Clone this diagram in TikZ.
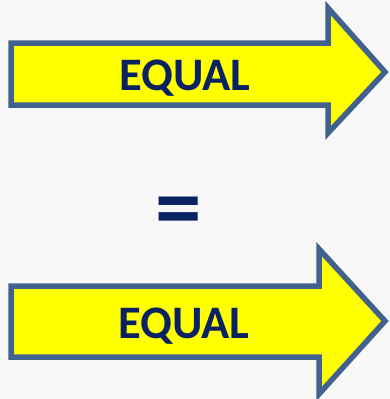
\documentclass[tikz,border=0pt]{standalone}
\usepackage{fontspec}
\setmainfont{Carlito}
\definecolor{bg}{HTML}{F8F8F8}
\definecolor{arrowline}{HTML}{41628F}
\definecolor{navy}{HTML}{0A2262}
\definecolor{arrowfill}{HTML}{FFFF00}
\tikzset{
  bigarrow/.style={draw=arrowline, fill=arrowfill, line width=5.5pt, line join=miter},
  label/.style={font=\fontsize{46.6}{50}\selectfont\bfseries, text=navy, anchor=base, inner sep=0pt},
}
\begin{document}
\begin{tikzpicture}[x=1pt,y=-1pt]
\fill[bg] (0,0) rectangle (390,399);
\useasboundingbox (0,0) rectangle (390,399);
\draw[bigarrow] (11,43) -- (328,43) -- (328,8) -- (385,72) -- (328,133) -- (328,105) -- (11,105) -- cycle;
\node[label] (t1) at (185,90) {EQUAL};
\node[font=\fontsize{93}{93}\selectfont\bfseries, text=navy, inner sep=0pt] (eq) at (179,218) {=};
\draw[bigarrow] (11,286) -- (319,286) -- (319,249) -- (385,321) -- (319,394) -- (319,357) -- (11,357) -- cycle;
\node[label] (t2) at (184,338) {EQUAL};
\end{tikzpicture}
\end{document}
